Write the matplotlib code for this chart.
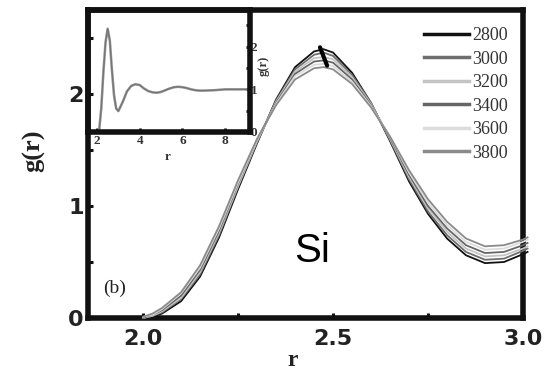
import matplotlib
matplotlib.use("Agg")
import matplotlib.pyplot as plt

# Radial distribution function of liquid Si near the first peak, several temperatures (K)
r = [2.00, 2.025, 2.05, 2.10, 2.15, 2.20, 2.25, 2.30, 2.35, 2.40, 2.45, 2.475,
     2.50, 2.55, 2.60, 2.65, 2.70, 2.75, 2.80, 2.85, 2.90, 2.95, 3.00, 3.012]
g_2800 = [0.00, 0.01, 0.04, 0.15, 0.37, 0.72, 1.15, 1.56, 1.95, 2.24, 2.38, 2.40,
          2.37, 2.19, 1.92, 1.58, 1.22, 0.93, 0.71, 0.56, 0.49, 0.50, 0.57, 0.59]
g_3000 = [0.00, 0.02, 0.05, 0.17, 0.39, 0.74, 1.17, 1.57, 1.94, 2.22, 2.35, 2.37,
          2.34, 2.17, 1.92, 1.59, 1.24, 0.95, 0.74, 0.59, 0.52, 0.53, 0.60, 0.62]
g_3200 = [0.00, 0.02, 0.06, 0.18, 0.41, 0.76, 1.18, 1.58, 1.93, 2.20, 2.32, 2.33,
          2.31, 2.15, 1.91, 1.60, 1.26, 0.98, 0.77, 0.62, 0.55, 0.56, 0.62, 0.64]
g_3400 = [0.00, 0.03, 0.07, 0.20, 0.43, 0.78, 1.20, 1.59, 1.92, 2.18, 2.29, 2.30,
          2.28, 2.13, 1.90, 1.61, 1.28, 1.00, 0.80, 0.65, 0.58, 0.59, 0.65, 0.67]
g_3600 = [0.01, 0.03, 0.08, 0.22, 0.45, 0.80, 1.21, 1.59, 1.91, 2.16, 2.26, 2.27,
          2.25, 2.11, 1.89, 1.62, 1.30, 1.03, 0.83, 0.68, 0.61, 0.62, 0.68, 0.70]
g_3800 = [0.01, 0.04, 0.09, 0.23, 0.47, 0.82, 1.23, 1.60, 1.90, 2.13, 2.23, 2.24,
          2.22, 2.09, 1.88, 1.62, 1.32, 1.06, 0.86, 0.71, 0.64, 0.65, 0.70, 0.72]

temperatures = ["2800", "3000", "3200", "3400", "3600", "3800"]
series = [g_2800, g_3000, g_3200, g_3400, g_3600, g_3800]
colors = ["#111111", "#6e6e6e", "#c4c4c4", "#666666", "#dcdcdc", "#8a8a8a"]

# Full-range g(r) shown in the inset
r_full = [1.6, 2.0, 2.1, 2.2, 2.3, 2.4, 2.5, 2.6, 2.7, 2.8, 2.9, 3.0, 3.2, 3.4,
          3.6, 3.8, 4.0, 4.2, 4.4, 4.6, 4.8, 5.0, 5.2, 5.4, 5.6, 5.8, 6.0, 6.2,
          6.4, 6.6, 6.8, 7.0, 7.5, 8.0, 8.5, 9.16]
g_full = [0.0, 0.0, 0.03, 0.55, 1.4, 2.1, 2.42, 2.15, 1.45, 0.85, 0.55, 0.49,
          0.7, 0.95, 1.08, 1.12, 1.1, 1.02, 0.96, 0.93, 0.92, 0.94, 0.98, 1.02,
          1.05, 1.06, 1.05, 1.03, 1.0, 0.98, 0.97, 0.97, 0.98, 1.0, 1.0, 1.0]

W, H = 555, 372
fig = plt.figure(figsize=(W / 100, H / 100), dpi=100)

L, R, T, B = 88, 523, 10, 318
ax = fig.add_axes([L / W, 1 - B / H, (R - L) / W, (B - T) / H])

for g, c, lab in zip(series, colors, temperatures):
    ax.plot(r, g, color=c, lw=1.3, label=lab, clip_on=False, zorder=3)

ax.set_xlim(1.855, 3.0)
ax.set_ylim(0, 2.75)
ax.set_xticks([2.0, 2.5, 3.0])
ax.set_xticks([2.25, 2.75], minor=True)
ax.set_yticks([0, 1, 2])
ax.set_yticks([0.5, 1.5, 2.5], minor=True)
ax.set_xticklabels(["2.0", "2.5", "3.0"])
ax.set_yticklabels(["0", "1", "2"])

for s in ax.spines.values():
    s.set_linewidth(4)
    s.set_color("#111111")
ax.tick_params(which="both", direction="in", length=3.5, width=2.2,
               color="#111111", top=False, right=False)
ax.tick_params(axis="x", which="major", pad=8)
ax.tick_params(axis="y", which="major", pad=3)
for lab in ax.get_xticklabels() + ax.get_yticklabels():
    lab.set_fontfamily("DejaVu Sans")
    lab.set_fontweight("bold")
    lab.set_fontsize(16)
    lab.set_color("#222222")

fig.text(34 / W, 1 - 151 / H, "g(r)", rotation=90, ha="center", va="center",
         family="Liberation Serif", weight="bold", fontsize=19, color="#222222")
fig.text(293 / W, 1 - 360 / H, "r", ha="center", va="center",
         family="Liberation Serif", weight="bold", fontsize=17, color="#222222")

ax.text(0.062, 0.097, "(b)", transform=ax.transAxes, ha="center", va="center",
        family="Liberation Serif", fontsize=14, color="#222222")
ax.text(0.515, 0.2175, "Si", transform=ax.transAxes, ha="center", va="center",
        family="Liberation Sans", fontsize=29, color="black")

# temperature direction marker at the peak
ax.annotate("", xy=(2.487, 2.23), xytext=(2.463, 2.44),
            arrowprops=dict(arrowstyle="-", color="black", lw=3), zorder=5)

leg = ax.legend(loc="upper right", bbox_to_anchor=(0.995, 0.985), frameon=False,
                prop={"family": "Liberation Serif", "size": 13},
                handlelength=2.5, handletextpad=0.2, labelspacing=0.36,
                borderaxespad=0.3)
for h in leg.get_lines():
    h.set_linewidth(2.5)
for t in leg.get_texts():
    t.set_color("#333333")

# inset with the full g(r)
iL, iR, iT, iB = 88, 250, 10, 132
ins = fig.add_axes([iL / W, 1 - iB / H, (iR - iL) / W, (iB - iT) / H])
ins.patch.set_visible(False)
ins.plot(r_full, g_full, color="#8e8e8e", lw=1.8)
ins.plot(r_full, g_full, color="#6a6a6a", lw=0.5)
ins.set_xlim(1.58, 9.16)
ins.set_ylim(0, 2.86)
ins.set_xticks([2, 4, 6, 8])
ins.set_yticks([0, 1, 2])
ins.set_yticks([0.5, 1.5, 2.5], minor=True)
ins.yaxis.tick_right()
ins.yaxis.set_label_position("right")
for s in ins.spines.values():
    s.set_linewidth(4)
    s.set_color("#111111")
ins.tick_params(which="both", direction="in", length=3, width=2,
                color="#111111", top=False, left=False, right=True, pad=0.5,
                labelsize=9.5)
ins.tick_params(axis="x", pad=2.5)
for lab in ins.get_xticklabels() + ins.get_yticklabels():
    lab.set_fontfamily("Liberation Serif")
    lab.set_fontweight("bold")
    lab.set_color("#333333")
fig.text(168 / W, 1 - 157 / H, "r", ha="center", va="center",
         family="Liberation Serif", weight="bold", fontsize=9.5, color="#333333")
fig.text(264 / W, 1 - 66 / H, "g(r)", rotation=90, ha="center", va="center",
         family="Liberation Serif", weight="bold", fontsize=9, color="#333333")

fig.savefig("out.png", dpi=100)
